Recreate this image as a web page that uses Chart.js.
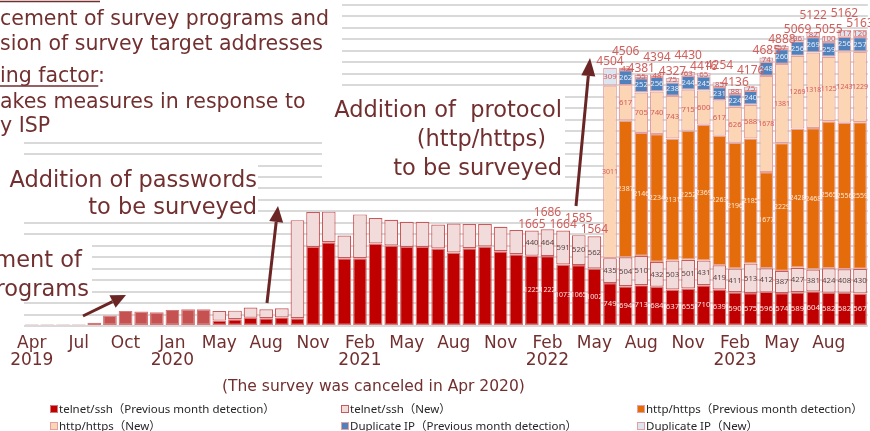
<!DOCTYPE html>
<html>
<head>
<meta charset="utf-8">
<script src="https://cdn.jsdelivr.net/npm/chart.js@4"></script>
<style>
  html, body { margin: 0; padding: 0; background: #fff; }
  #wrap { width: 870px; height: 431px; position: relative; }
</style>
</head>
<body>
<div id="wrap"><canvas id="chart" width="870" height="431"></canvas></div>
<script>
// months (Apr 2020 survey was canceled, so no category for it)
const months = [
  "2019-04", "2019-05", "2019-06", "2019-07", "2019-08", "2019-09", "2019-10", "2019-11", "2019-12",
  "2020-01", "2020-02", "2020-03", "2020-05", "2020-06", "2020-07", "2020-08", "2020-09", "2020-10", "2020-11", "2020-12",
  "2021-01", "2021-02", "2021-03", "2021-04", "2021-05", "2021-06", "2021-07", "2021-08", "2021-09", "2021-10", "2021-11", "2021-12",
  "2022-01", "2022-02", "2022-03", "2022-04", "2022-05", "2022-06", "2022-07", "2022-08", "2022-09", "2022-10", "2022-11", "2022-12",
  "2023-01", "2023-02", "2023-03", "2023-04", "2023-05", "2023-06", "2023-07", "2023-08", "2023-09", "2023-10"
];

const tickLabels = [
  ["Apr", "2019"], "", "", "Jul", "", "", "Oct", "", "",
  ["Jan", "2020"], "", "", "May", "", "", "Aug", "", "", "Nov", "",
  "", ["Feb", "2021"], "", "", "May", "", "", "Aug", "", "", "Nov", "",
  "", ["Feb", "2022"], "", "", "May", "", "", "Aug", "", "", "Nov", "",
  "", ["Feb", "2023"], "", "", "May", "", "", "Aug", "", ""
];

const telnetPrev = [
  25, 25, 25, 25, 58, 181, 263, 251, 240,
  281, 292, 292, 94, 117, 146, 135, 150, 135, 1380, 1461,
  1181, 1181, 1439, 1404, 1380, 1380, 1351, 1281, 1357, 1386, 1304, 1251,
  1225, 1222, 1073, 1065, 1002, 749, 694, 713, 684, 637, 655, 710,
  639, 590, 575, 596, 574, 589, 604, 582, 582, 567
];
const telnetNew = [
  null, null, null, null, null, null, null, null, null,
  null, null, null, 169, 151, 176, 157, 160, 1712, 608, 534,
  398, 766, 444, 450, 439, 439, 421, 508, 421, 392, 427, 422,
  440, 464, 591, 520, 562, 435, 504, 510, 432, 503, 501, 431,
  419, 411, 513, 412, 387, 427, 381, 424, 408, 430
];
const httpPrev = [
  null, null, null, null, null, null, null, null, null,
  null, null, null, null, null, null, null, null, null, null, null,
  null, null, null, null, null, null, null, null, null, null, null, null,
  null, null, null, null, null, null, 2387, 2146, 2234, 2131, 2252, 2369,
  2263, 2196, 2185, 1677, 2229, 2428, 2468, 2565, 2556, 2559
];
const httpNew = [
  null, null, null, null, null, null, null, null, null,
  null, null, null, null, null, null, null, null, null, null, null,
  null, null, null, null, null, null, null, null, null, null, null, null,
  null, null, null, null, null, 3011, 617, 705, 740, 743, 715, 600,
  617, 626, 588, 1678, 1381, 1269, 1318, 1125, 1243, 1229
];
const dupPrev = [
  null, null, null, null, null, null, null, null, null,
  null, null, null, null, null, null, null, null, null, null, null,
  null, null, null, null, null, null, null, null, null, null, null, null,
  null, null, null, null, null, null, 262, 252, 256, 238, 244, 245,
  231, 224, 240, 248, 260, 256, 269, 259, 256, 257
];
const dupNew = [
  null, null, null, null, null, null, null, null, null,
  null, null, null, null, null, null, null, null, null, null, null,
  null, null, null, null, null, null, null, null, null, null, null, null,
  null, null, null, null, null, 309, 42, 55, 48, 75, 63, 65,
  85, 88, 75, 74, 57, 96, 82, 100, 117, 120
];

// totals printed above the bars, from Jan 2022
const totals = [
  1665, 1686, 1664, 1585, 1564, 4504, 4506, 4381, 4394, 4327, 4430, 4416,
  4254, 4136, 4176, 4685, 4888, 5069, 5122, 5055, 5162, 5163
];
const labelFrom = months.indexOf("2022-01");
const splitFrom = months.indexOf("2020-05");

const FONT = '"Noto Sans", "Noto Sans CJK JP", sans-serif';
const FONT2 = '"DejaVu Sans", sans-serif';
const TEXT = "#722f2f";

const telnetPrevFill = months.map((m, i) => i < splitFrom ? "#c55150" : "#c00000");

const datasets = [
  { label: "telnet/ssh（Previous month detection）", data: telnetPrev, backgroundColor: telnetPrevFill, borderColor: "#d77676", labelColor: "#f8e4e4" },
  { label: "telnet/ssh（New）", data: telnetNew, backgroundColor: "#f2dcdb", borderColor: "#c9595a", labelColor: "#5e4646" },
  { label: "http/https（Previous month detection）", data: httpPrev, backgroundColor: "#e46c0a", borderColor: "#e7a2a0", labelColor: "#fde9d9" },
  { label: "http/https（New）", data: httpNew, backgroundColor: "#fcd5b5", borderColor: "#e3a0a0", labelColor: "#d25c58" },
  { label: "Duplicate IP（Previous month detection）", data: dupPrev, backgroundColor: "#4f81bd", borderColor: "#e3a0a0", labelColor: "#e6edf7" },
  { label: "Duplicate IP（New）", data: dupNew, backgroundColor: "#dce6f2", borderColor: "#e3a0a0", labelColor: "#d25c58" }
];
datasets.forEach(d => { d.borderWidth = 1.2; d.borderSkipped = false; });

function arrow(ctx, x1, y1, x2, y2, len, w) {
  const a = Math.atan2(y2 - y1, x2 - x1);
  const bx = x2 - len * Math.cos(a), by = y2 - len * Math.sin(a);
  ctx.beginPath();
  ctx.moveTo(x1, y1);
  ctx.lineTo(bx, by);
  ctx.stroke();
  ctx.beginPath();
  ctx.moveTo(x2, y2);
  ctx.lineTo(bx + w / 2 * Math.sin(a), by - w / 2 * Math.cos(a));
  ctx.lineTo(bx - w / 2 * Math.sin(a), by + w / 2 * Math.cos(a));
  ctx.closePath();
  ctx.fill();
}

const overlay = {
  id: "overlay",
  beforeDatasetsDraw(chart) {
    const ctx = chart.ctx;
    ctx.save();
    ctx.fillStyle = "#fff";
    ctx.fillRect(0, 0, 342, 138);
    ctx.fillRect(322, 90, 243, 90);
    ctx.fillRect(0, 160, 258, 58);
    ctx.fillRect(0, 240, 92, 60);
    ctx.restore();
  },
  afterDatasetsDraw(chart) {
    const ctx = chart.ctx;
    const y = chart.scales.y;
    ctx.save();

    // values inside the segments
    ctx.textAlign = "center";
    ctx.textBaseline = "middle";
    chart.data.datasets.forEach((ds, di) => {
      const meta = chart.getDatasetMeta(di);
      meta.data.forEach((bar, i) => {
        const v = ds.data[i];
        if (!v || i < labelFrom) return;
        const s = String(v);
        ctx.font = (s.length > 3 ? 7 : 7.8) + "px " + FONT;
        ctx.fillStyle = ds.labelColor;
        ctx.fillText(s, bar.x, (bar.y + bar.base) / 2);
      });
    });

    // totals above bars, lifted when they would hit the previous one
    ctx.font = "12px " + FONT;
    ctx.fillStyle = "#d0605d";
    ctx.textBaseline = "alphabetic";
    let prevY = null, prevRaised = false;
    totals.forEach((t, k) => {
      const i = labelFrom + k;
      let sum = 0;
      chart.data.datasets.forEach(ds => { sum += ds.data[i] || 0; });
      let ty = y.getPixelForValue(sum) - 3;
      let raised = false;
      if (prevY !== null && !prevRaised && Math.abs(ty - prevY) < 10) {
        ty -= 10;
        raised = true;
      }
      const x = chart.getDatasetMeta(0).data[i].x;
      ctx.fillText(String(t), x, ty);
      prevY = ty;
      prevRaised = raised;
    });

    // annotation texts
    ctx.fillStyle = TEXT;
    ctx.strokeStyle = TEXT;
    ctx.font = "20.5px " + FONT2;
    ctx.textAlign = "left";
    ctx.fillText("cement of survey programs and", 0, 25);
    ctx.fillText("sion of survey target addresses", 0, 50);
    ctx.fillText("ing factor:", 0, 82);
    ctx.fillText("akes measures in response to", 0, 108);
    ctx.fillText("y ISP", 0, 132);
    ctx.lineWidth = 1.3;
    const uw = ctx.measureText("ing factor").width;
    ctx.beginPath();
    ctx.moveTo(0, 86); ctx.lineTo(uw, 86);
    ctx.moveTo(0, 1.5); ctx.lineTo(100, 1.5);
    ctx.stroke();

    ctx.font = "22.5px " + FONT2;
    ctx.textAlign = "right";
    ctx.fillText("Addition of passwords", 257, 187);
    ctx.fillText("to be surveyed", 257, 214);
    ctx.fillText("ment of", 82, 267);
    ctx.fillText("rograms", 89, 296);
    ctx.fillText("Addition of  protocol", 562, 117);
    ctx.fillText("(http/https)", 546, 146);
    ctx.fillText("to be surveyed", 562, 175);

    ctx.fillStyle = "#6b2525";
    ctx.strokeStyle = "#6b2525";
    ctx.lineWidth = 3;
    arrow(ctx, 83, 316, 126, 295, 15, 14);
    arrow(ctx, 267, 303, 278, 206, 16, 14);
    arrow(ctx, 576, 206, 590, 58, 18, 14);

    // subtitle
    ctx.fillStyle = TEXT;
    ctx.font = "15.5px " + FONT2;
    ctx.textAlign = "left";
    ctx.fillText("(The survey was canceled in Apr 2020)", 222, 391);

    // legend, three columns
    const cols = [50, 341, 637];
    const rows = [409, 426];
    ctx.font = "11.5px " + FONT;
    ctx.textBaseline = "middle";
    chart.data.datasets.forEach((ds, di) => {
      const cx = cols[di % 3], cy = rows[Math.floor(di / 3)];
      const fill = Array.isArray(ds.backgroundColor) ? ds.backgroundColor[ds.backgroundColor.length - 1] : ds.backgroundColor;
      ctx.fillStyle = fill;
      ctx.fillRect(cx, cy - 4, 8, 8);
      ctx.strokeStyle = ds.borderColor;
      ctx.lineWidth = 1;
      ctx.strokeRect(cx + 0.5, cy - 3.5, 7, 7);
      ctx.fillStyle = "#262626";
      ctx.fillText(ds.label, cx + 9, cy + 1);
    });
    ctx.restore();
  }
};

new Chart(document.getElementById("chart"), {
  type: "bar",
  data: { labels: months, datasets: datasets },
  options: {
    responsive: false,
    animation: false,
    layout: { padding: { left: 21, right: 0, top: 5, bottom: 59 } },
    plugins: { legend: { display: false }, tooltip: { enabled: false } },
    datasets: { bar: { categoryPercentage: 1, barPercentage: 0.88 } },
    scales: {
      x: {
        stacked: true,
        grid: { display: false, drawTicks: false },
        border: { display: false },
        afterFit: s => { s.height = 46; },
        ticks: {
          autoSkip: false,
          maxRotation: 0,
          minRotation: 0,
          padding: 10,
          color: TEXT,
          font: { family: FONT2, size: 17, lineHeight: 0.95 },
          callback: (v, i) => tickLabels[i]
        }
      },
      y: {
        stacked: true,
        min: 0,
        max: 5600,
        afterFit: s => { s.width = 0; },
        ticks: { display: false, stepSize: 200 },
        border: { display: false },
        grid: { color: "#d9d9d9", lineWidth: 2, drawTicks: false }
      }
    }
  },
  plugins: [overlay]
});
</script>
</body>
</html>
